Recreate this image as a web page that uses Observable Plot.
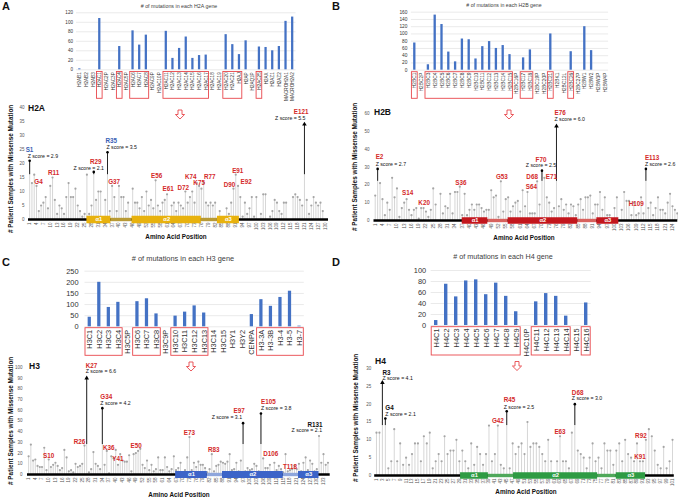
<!DOCTYPE html>
<html><head><meta charset="utf-8">
<script src="https://cdn.jsdelivr.net/npm/d3@7"></script>
<script src="https://cdn.jsdelivr.net/npm/@observablehq/plot@0.6"></script>
<style>
body{margin:0;background:#fff;}
#root{position:relative;width:678px;height:502px;overflow:hidden;background:#fff;font-family:"Liberation Sans",Arial,sans-serif;}
.pane{position:absolute;}
</style></head><body><div id="root"></div><script>
// ---------------- DATA ----------------
const h2aGenes = ["H2AB1","H2AB2","H2AB3","H2AC1","H2AC2P","H2AC3P","H2AC4","H2AC5P","H2AC6","H2AC7","H2AC8","H2AC9P","H2AC10P","H2AC11","H2AC12","H2AC13","H2AC14","H2AC15","H2AC16","H2AC17","H2AC18","H2AC19","H2AC20","H2AC21","H2AJ","H2AP","H2AQ1P","H2AC25","H2AX","H2AZ1","H2AZ2","MACROH2A1","MACROH2A2"];
const h2aGeneCounts = [2,0,0,108,0,0,49,0,82,52,73,0,0,81,24,45,69,24,30,31,0,0,74,53,32,61,0,48,47,40,49,102,111];
const h2aBoxed = [["H2AC1","H2AC1"],["H2AC4","H2AC4"],["H2AC6","H2AC8"],["H2AC11","H2AC17"],["H2AC20","H2AJ"],["H2AC25","H2AC25"]];

const h2bGenes = ["H2BC1","H2BC2P","H2BC3","H2BC4","H2BC5","H2BC6","H2BC7","H2BC8","H2BC9","H2BC10","H2BC11","H2BC12","H2BC13","H2BC14","H2BC15","H2BC16P","H2BC17","H2BC18","H2BC19P","H2BC20P","H2BC21","H2BK1","H2BC12L","H2BC26","H2BC27P","H2BW1","H2BW2","H2BW3P","H2BW4P"];
const h2bGeneCounts = [75,0,15,152,126,50,23,86,84,31,65,79,60,68,43,0,34,56,0,0,100,0,0,51,0,120,54,0,0];
const h2bBoxed = [["H2BC1","H2BC1"],["H2BC3","H2BC15"],["H2BC17","H2BC18"],["H2BC21","H2BC21"],["H2BC26","H2BC26"]];

const h3Genes = ["H3C1","H3C2","H3C3","H3C4","H3C5P","H3C6","H3C7","H3C8","H3C9P","H3C10","H3C11","H3C12","H3C13","H3C14","H3C15","H3Y1","H3Y2","CENPA","H3-3A","H3-3B","H3-4","H3-5","H3-7"];
const h3GeneCounts = [43,200,87,110,0,113,126,58,0,48,66,94,62,0,0,0,0,55,122,92,132,160,3];
const h3Boxed = [["H3C1","H3C4"],["H3C6","H3C8"],["H3C10","H3C13"],["H3-3A","H3-7"]];

const h4Genes = ["H4C1","H4C2","H4C3","H4C4","H4C5","H4C6","H4C7","H4C8","H4C9","H4C10P","H4C11","H4C12","H4C13","H4C14","H4C15","H4C16"];
const h4GeneCounts = [9,75,52,81,83,56,77,53,25,0,43,58,53,17,0,41];
const h4Boxed = [["H4C1","H4C9"],["H4C11","H4C14"],["H4C16","H4C16"]];

// missense counts per amino-acid position (position = index + 1)
const h2aMissense = [21,13,16,12,3,5,6,8,4,12,15,7,2,5,4,2,8,13,8,8,11,5,3,1,2,16,2,5,17,7,10,10,0,7,24,3,12,8,3,12,8,8,3,6,0,11,6,6,4,8,3,10,5,7,4,14,5,3,6,7,9,0,5,6,3,6,5,4,10,6,8,10,6,13,12,11,13,6,5,6,5,6,0,3,0,0,4,2,6,11,16,12,8,1,6,2,4,8,1,8,0,2,9,9,0,1,3,7,6,3,2,6,6,0,0,8,9,8,7,5,34,7,2,5,8,6,5,6,3,0];
const h2bMissense = [14,29,21,12,3,10,6,24,13,18,2,7,10,12,6,3,6,7,1,7,7,5,2,6,18,9,0,15,4,8,7,15,4,16,16,19,3,15,3,6,9,6,9,9,7,5,6,6,17,13,14,2,22,5,12,13,5,8,10,11,5,17,8,16,4,4,4,22,9,28,24,13,10,5,7,53,8,12,6,9,4,9,8,3,9,12,6,13,13,14,4,9,9,16,6,13,3,3,0,7,13,0,6,16,11,11,3,10,3,4,13,4,29,7,10,3,7,13,6,6,4,10,15,8,6,4];
const h3Missense = [17,28,13,14,8,7,7,25,4,14,7,9,11,8,4,6,23,16,3,4,2,10,7,8,10,27,90,2,5,21,10,8,5,62,9,22,1,17,15,23,9,19,13,12,12,18,3,19,20,22,24,9,6,13,4,9,3,5,16,4,4,16,7,3,5,17,4,6,11,1,4,16,35,4,11,7,12,9,9,6,2,5,19,3,8,9,12,11,10,12,19,4,5,11,3,13,48,3,6,4,5,10,8,3,57,15,6,6,9,2,11,4,8,5,2,19,3,4,5,8,5,10,3,11,16,4,13,10,3,5,36,11,19,9,11];
const h4Missense = [12,12,26,16,2,4,13,4,9,3,5,3,6,9,9,4,11,9,12,2,4,6,4,11,6,7,7,10,4,7,4,2,9,3,8,6,3,6,14,4,6,14,3,2,18,2,9,6,8,9,6,15,8,9,9,8,6,4,10,4,0,4,11,4,4,2,12,20,7,6,5,2,5,9,4,5,2,9,7,7,3,7,9,4,10,6,5,4,9,4,4,10,13,11,7,3,2,8,2,4,10];

// annotated residues: [label, position, z score]
const h2aSites = [["S1",1,"2.9"],["G4",4,null],["R11",11,null],["R29",29,"2.1"],["R35",35,"3.5"],["G37",37,null],["E56",56,null],["E61",61,null],["D72",72,null],["K74",74,null],["K75",75,null],["R77",77,null],["D90",90,null],["E91",91,null],["E92",92,null],["E121",121,"5.5"]];
const h2bSites = [["E2",2,"2.7"],["S14",14,null],["K20",20,null],["S36",36,null],["G53",53,null],["S64",64,null],["D68",68,null],["F70",70,"2.5"],["E71",71,null],["E76",76,"6.0"],["H109",109,null],["E113",113,"2.6"]];
const h3Sites = [["S10",10,null],["R26",26,null],["K27",27,"6.6"],["G34",34,"4.2"],["K36",36,null],["Y41",41,null],["E50",50,null],["E73",73,null],["R83",83,null],["E97",97,"3.1"],["E105",105,"3.8"],["D106",106,null],["T118",118,null],["R131",131,"2.1"]];
const h4Sites = [["R3",3,"4.1"],["G4",4,"2.1"],["G42",42,null],["R45",45,"2.5"],["E63",63,null],["D68",68,"3.0"],["K91",91,null],["R92",92,null]];

// secondary structure (start, end positions)
const h2aHelices = [{n:"α1",s:26,e:36.5},{n:"α2",s:45.7,e:76},{n:"α3",s:83,e:92.6}];
const h2aLoops = [{s:36.5,e:45.7},{s:76,e:83}];
const h2bHelices = [{n:"α1",s:37,e:47.6},{n:"α2",s:56,e:84.8},{n:"α3",s:92.7,e:101.8}];
const h2bLoops = [{s:47.6,e:56},{s:84.8,e:92.7}];
const h3Helices = [{n:"α1",s:66.8,e:81},{n:"α2",s:87.8,e:115},{n:"α3",s:121.8,e:131}];
const h3Loops = [{s:81,e:87.8},{s:115,e:121.8}];
const h4Helices = [{n:"α1",s:29.4,e:38.8},{n:"α2",s:47.3,e:75.7},{n:"α3",s:82,e:91.9}];
const h4Loops = [{s:38.8,e:47.3},{s:75.7,e:82}];

// ---------------- STYLE ----------------
const FONT = '"Liberation Sans", Arial, Helvetica, sans-serif';
const BAR = "#4472c4", RED = "#d42a2a", BLUEL = "#3b5fb5", BOX = "#e8474c";
const NS = "http://www.w3.org/2000/svg";
const root = document.getElementById("root");

function place(node, left, top, w, h) {
  const div = document.createElement("div");
  div.className = "pane";
  Object.assign(div.style, {left: left + "px", top: top + "px", width: w + "px", height: h + "px"});
  div.appendChild(node);
  root.appendChild(div);
}

function boxMark(groups, genes, y1, y2) {
  return (index, scales) => {
    const g = document.createElementNS(NS, "g");
    for (const [a, b] of groups) {
      const i = genes.indexOf(a), j = genes.indexOf(b);
      const xa = scales.x(i - 0.5), xb = scales.x(j + 0.5);
      const r = document.createElementNS(NS, "rect");
      r.setAttribute("x", xa + 0.5); r.setAttribute("width", xb - xa - 1);
      r.setAttribute("y", y1); r.setAttribute("height", y2 - y1);
      r.setAttribute("fill", "none"); r.setAttribute("stroke", BOX); r.setAttribute("stroke-width", 0.9);
      g.appendChild(r);
    }
    return g;
  };
}

function makeBar(c) {
  const data = c.genes.map((g, i) => ({i, v: c.counts[i]})).filter(d => d.v > 0);
  const svg = Plot.plot({
    width: c.w, height: c.h, marginTop: c.mt, marginBottom: c.mb, marginLeft: c.ml, marginRight: c.mr,
    x: {domain: [-0.5, c.genes.length - 0.5], ticks: d3.range(c.genes.length), tickFormat: i => c.genes[i],
        tickRotate: -90, tickSize: 0, tickPadding: c.xpad, label: null},
    y: {domain: [0, c.ymax], ticks: d3.range(0, c.ymax + 1, c.ystep), grid: true, tickSize: 0, tickPadding: c.ypad, label: null},
    style: {background: "transparent", fontFamily: FONT, fontSize: c.font + "px", color: "#333"},
    marks: [
      Plot.rect(data, {x1: d => d.i - 0.17, x2: d => d.i + 0.17, y1: 0, y2: "v", fill: BAR}),
      boxMark(c.boxed, c.genes, c.by1, c.by2)
    ]
  });
  place(svg, c.left, c.top, c.w, c.h);
}

function makeLollipop(c) {
  const stems = c.vals.map((v, i) => ({p: i + 1, v})).filter(d => d.v > 0);
  const blackStems = stems.filter(d => c.black.includes(d.p));
  const tips = stems.filter(d => c.arrows.includes(d.p));
  const blackDots = blackStems.filter(d => !c.arrows.includes(d.p));
  const greyDots = stems.filter(d => !c.black.includes(d.p) && !c.arrows.includes(d.p));
  const marks = [
    Plot.ruleX(stems, {x: "p", y1: 0, y2: "v", stroke: "#cbcbcb", strokeWidth: 0.8}),
    Plot.dot(greyDots, {x: "p", y: "v", r: 1.1, fill: "#a5a5a5"}),
    Plot.ruleX(blackStems, {x: "p", y1: c.thr, y2: "v", stroke: "#111", strokeWidth: 0.9}),
    Plot.dot(blackDots, {x: "p", y: "v", r: 1.3, fill: "#000"}),
    Plot.dot(tips, {x: "p", y: "v", symbol: "triangle", r: 1.7, fill: "#000"}),
    Plot.ruleY([0], {stroke: "#000", strokeWidth: 2.6}),
    Plot.ruleY(c.loops, {y: 0, x1: "s", x2: "e", stroke: c.loopColor, strokeWidth: 3.4}),
    Plot.ruleY(c.helices, {y: 0, x1: "s", x2: "e", stroke: c.color, strokeWidth: c.hw}),
    Plot.text(c.helices, {x: d => (d.s + d.e) / 2, y: 0, text: "n", fill: "#fff", fontSize: 5.8, fontWeight: "bold"})
  ];
  for (const [name, p, z] of c.sites) {
    const o = Object.assign({a: "middle", dx: 0, dy: -4, c: RED}, c.off[name] || {});
    const d = [{p, v: c.vals[p - 1]}];
    marks.push(Plot.text(d, {x: "p", y: "v", text: () => name, dx: o.dx, dy: o.dy, textAnchor: o.a,
      fill: o.c, fontWeight: "bold", fontSize: 6.3}));
    if (z) marks.push(Plot.text(d, {x: "p", y: "v", text: () => "Z score = " + z, dx: o.zdx, dy: o.zdy,
      textAnchor: o.za, fill: "#111", fontSize: 5.2}));
  }
  const svg = Plot.plot({
    width: c.w, height: c.h, marginTop: c.mt, marginBottom: c.mb, marginLeft: c.ml, marginRight: c.mr,
    x: {domain: c.xdom, ticks: c.xticks, tickRotate: -90, tickSize: 0, tickPadding: 3, label: null},
    y: {domain: [0, c.ymax], ticks: d3.range(0, c.ymax + 1, c.ystep), tickSize: 0, tickPadding: c.ypad, label: null},
    style: {background: "transparent", fontFamily: FONT, fontSize: "4.5px", color: "#555"},
    marks
  });
  place(svg, c.left, c.top, c.w, c.h);
}

// ---------------- BAR CHARTS ----------------
makeBar({genes: h2aGenes, counts: h2aGeneCounts, boxed: h2aBoxed, left: 0, top: 0, w: 339, h: 102,
  mt: 12.3, mb: 32.7, ml: 76, mr: 43.5, ymax: 120, ystep: 20, font: 4.6, xpad: 2.5, ypad: 3.5, by1: 71.5, by2: 98.3});
makeBar({genes: h2bGenes, counts: h2bGeneCounts, boxed: h2bBoxed, left: 339, top: 0, w: 339, h: 102,
  mt: 11.7, mb: 32.3, ml: 71.9, mr: 69.9, ymax: 160, ystep: 20, font: 4.8, xpad: 2.5, ypad: 4, by1: 71.7, by2: 98.3});
makeBar({genes: h3Genes, counts: h3GeneCounts, boxed: h3Boxed, left: 0, top: 250, w: 339, h: 108,
  mt: 20.7, mb: 31.7, ml: 84.5, mr: 35.2, ymax: 250, ystep: 50, font: 7.4, xpad: 3, ypad: 6.5, by1: 77.7, by2: 105.3});
makeBar({genes: h4Genes, counts: h4GeneCounts, boxed: h4Boxed, left: 339, top: 250, w: 339, h: 108,
  mt: 20, mb: 33, ml: 91.7, mr: 87.3, ymax: 100, ystep: 20, font: 7.4, xpad: 3, ypad: 5, by1: 76.7, by2: 105});

// ---------------- LOLLIPOP CHARTS ----------------
makeLollipop({vals: h2aMissense, sites: h2aSites, black: [1, 29, 35, 121], arrows: [121], thr: 16,
  helices: h2aHelices, loops: h2aLoops, color: "#e8b20e", loopColor: "#b89a35", hw: 7.5,
  left: 0, top: 100, w: 339, h: 150, mt: 7, mb: 31, ml: 28, mr: 11, xdom: [0.5, 131.5],
  xticks: d3.range(1, 131, 3), ymax: 40, ystep: 5, ypad: 4,
  off: {
    S1: {a: "start", dx: -4, dy: -11, c: BLUEL, za: "start", zdx: -2, zdy: -4.5},
    G4: {dx: 2, dy: -4}, R11: {dx: 1, dy: -5},
    R29: {dx: 2, dy: -10, za: "middle", zdx: -5, zdy: -3.5},
    R35: {a: "start", dx: -2, dy: -11, c: BLUEL, za: "start", zdx: -1, zdy: -5},
    G37: {dx: 2, dy: -4}, E56: {dx: 1, dy: -4}, E61: {dx: 1, dy: -5}, D72: {dx: -9, dy: -4},
    K74: {dx: -6, dy: -6}, K75: {dx: 0, dy: -3}, R77: {dx: 6, dy: -6}, D90: {dx: -4, dy: -4},
    E91: {dx: 2, dy: -4}, E92: {dx: 8, dy: -4},
    E121: {a: "end", dx: 4, dy: -12, za: "end", zdx: 1, zdy: -6}
  }});
makeLollipop({vals: h2bMissense, sites: h2bSites, black: [2, 70, 76, 113], arrows: [76], thr: 22,
  helices: h2bHelices, loops: h2bLoops, color: "#c3161c", loopColor: "#d8625e", hw: 6.5,
  left: 339, top: 100, w: 339, h: 150, mt: 13.2, mb: 30, ml: 34.5, mr: 0.7, xdom: [0.5, 126.2],
  xticks: d3.range(1, 127, 3), ymax: 60, ystep: 10, ypad: 4.5,
  off: {
    E2: {a: "start", dx: -2, dy: -12, za: "start", zdx: -2, zdy: -5},
    S14: {dx: 1, dy: -6}, K20: {dx: 3, dy: -5}, S36: {dx: 1, dy: -4}, G53: {dx: 1, dy: -4},
    S64: {dx: 4, dy: -5}, D68: {dx: -5, dy: -4},
    F70: {dx: -1, dy: -11, za: "middle", zdx: -1, zdy: -5},
    E71: {dx: 7, dy: -1},
    E76: {a: "start", dx: -2, dy: -13, za: "start", zdx: -2, zdy: -7},
    H109: {dx: 0, dy: -11},
    E113: {a: "start", dx: -1, dy: -11, za: "start", zdx: -1, zdy: -5}
  }});
makeLollipop({vals: h3Missense, sites: h3Sites, black: [27, 34, 97, 105], arrows: [27], thr: 28,
  helices: h3Helices, loops: h3Loops, color: "#3c64c8", loopColor: "#8ea6dc", hw: 7,
  left: 0, top: 355, w: 339, h: 147, mt: 12, mb: 28, ml: 27, mr: 9.3, xdom: [0.5, 136],
  xticks: d3.range(1, 134, 3), ymax: 100, ystep: 10, ypad: 5,
  off: {
    K27: {a: "start", dx: -1, dy: -12, za: "start", zdx: -1, zdy: -7},
    G34: {a: "start", dx: -2, dy: -11, za: "start", zdx: -2, zdy: -4.5},
    R26: {dx: -5, dy: -4}, S10: {dx: 0, dy: -4}, K36: {dx: 2, dy: -3}, Y41: {dx: 0, dy: -6},
    E50: {dx: -2, dy: -5}, E73: {dx: 0, dy: -4}, R83: {dx: 2, dy: -4},
    E97: {dx: -4, dy: -12, za: "end", zdx: -1, zdy: -6},
    E105: {a: "start", dx: 0, dy: -11.5, za: "start", zdx: 0, zdy: -5},
    D106: {a: "start", dx: 0, dy: -4}, T118: {dx: 0, dy: -3},
    R131: {dx: -4, dy: -11, c: "#111", za: "end", zdx: 3, zdy: -6}
  }});
makeLollipop({vals: h4Missense, sites: h4Sites, black: [3, 4, 45, 68], arrows: [3], thr: 14,
  helices: h4Helices, loops: h4Loops, color: "#2e9b43", loopColor: "#4fa85a", hw: 6.5,
  left: 339, top: 355, w: 339, h: 147, mt: 13, mb: 27, ml: 35.2, mr: 4.2, xdom: [0.4, 101.6],
  xticks: d3.range(1, 102, 2), ymax: 30, ystep: 5, ypad: 3.5,
  off: {
    R3: {a: "start", dx: 0, dy: -10, c: "#111", za: "start", zdx: 0, zdy: -4},
    G4: {a: "start", dx: 0, dy: -10.5, c: "#111", za: "start", zdx: 0, zdy: -4.5},
    G42: {dy: -5},
    R45: {a: "start", dx: -3, dy: -11, za: "start", zdx: -3, zdy: -4},
    E63: {dy: -4},
    D68: {a: "start", dx: -3, dy: -11.5, za: "start", zdx: -3, zdy: -5.5},
    R92: {dx: -5, dy: -4}, K91: {dx: -3, dy: -4}
  }});

// ---------------- OVERLAY (titles, labels, arrows) ----------------
const ov = d3.create("svg").attr("width", 678).attr("height", 502)
  .style("position", "absolute").style("left", 0).style("top", 0).style("pointer-events", "none")
  .style("font-family", FONT);
function txt(x, y, s, size, opt = {}) {
  const t = ov.append("text").attr("x", x).attr("y", y).text(s).attr("font-size", size)
    .attr("fill", opt.fill || "#111").attr("font-weight", opt.bold ? "bold" : "normal")
    .attr("text-anchor", opt.anchor || "start").attr("dominant-baseline", "middle");
  if (opt.rot) t.attr("transform", `rotate(-90 ${x} ${y})`);
  return t;
}
// panel letters
txt(2, 7, "A", 11, {bold: true}); txt(332, 7, "B", 11, {bold: true});
txt(2, 263, "C", 11, {bold: true}); txt(332, 263, "D", 11, {bold: true});
// bar titles
txt(179, 7, "# of mutations in each H2A gene", 5.3, {anchor: "middle", fill: "#404040"});
txt(504, 5.5, "# of mutations in each H2B gene", 5.2, {anchor: "middle", fill: "#404040"});
txt(183, 259, "# of mutations in each H3 gene", 7.4, {anchor: "middle", fill: "#404040"});
txt(503, 257.5, "# of mutations in each H4 gene", 7.2, {anchor: "middle", fill: "#404040"});
// histone names
txt(28, 108.5, "H2A", 8.5, {bold: true}); txt(374, 113, "H2B", 8.5, {bold: true});
txt(29, 367, "H3", 8.5, {bold: true}); txt(375, 362, "H4", 8.5, {bold: true});
// axis titles
const yt = "# Patient Samples with Missense Mutation";
txt(11, 233, yt, 6.4, {bold: true, rot: true}); txt(355, 231, yt, 6.4, {bold: true, rot: true});
txt(11, 485, yt, 6.4, {bold: true, rot: true}); txt(356, 482, yt, 6.4, {bold: true, rot: true});
txt(176, 237, "Amino Acid Position", 6.3, {bold: true, anchor: "middle"});
txt(524, 238.3, "Amino Acid Position", 6.3, {bold: true, anchor: "middle"});
txt(179, 495, "Amino Acid Position", 6.3, {bold: true, anchor: "middle"});
txt(526, 492.3, "Amino Acid Position", 6.3, {bold: true, anchor: "middle"});
// hollow down arrows
function downArrow(cx, top) {
  const pts = [[cx - 2, top], [cx + 2, top], [cx + 2, top + 4.5], [cx + 4.6, top + 4.5], [cx, top + 9],
               [cx - 4.6, top + 4.5], [cx - 2, top + 4.5]];
  ov.append("polygon").attr("points", pts.map(p => p.join(",")).join(" "))
    .attr("fill", "#fff").attr("stroke", "#e8474c").attr("stroke-width", 0.9);
}
downArrow(180, 110); downArrow(509, 110); downArrow(191, 362); downArrow(517, 361.5);
root.appendChild(ov.node());
</script></body></html>
